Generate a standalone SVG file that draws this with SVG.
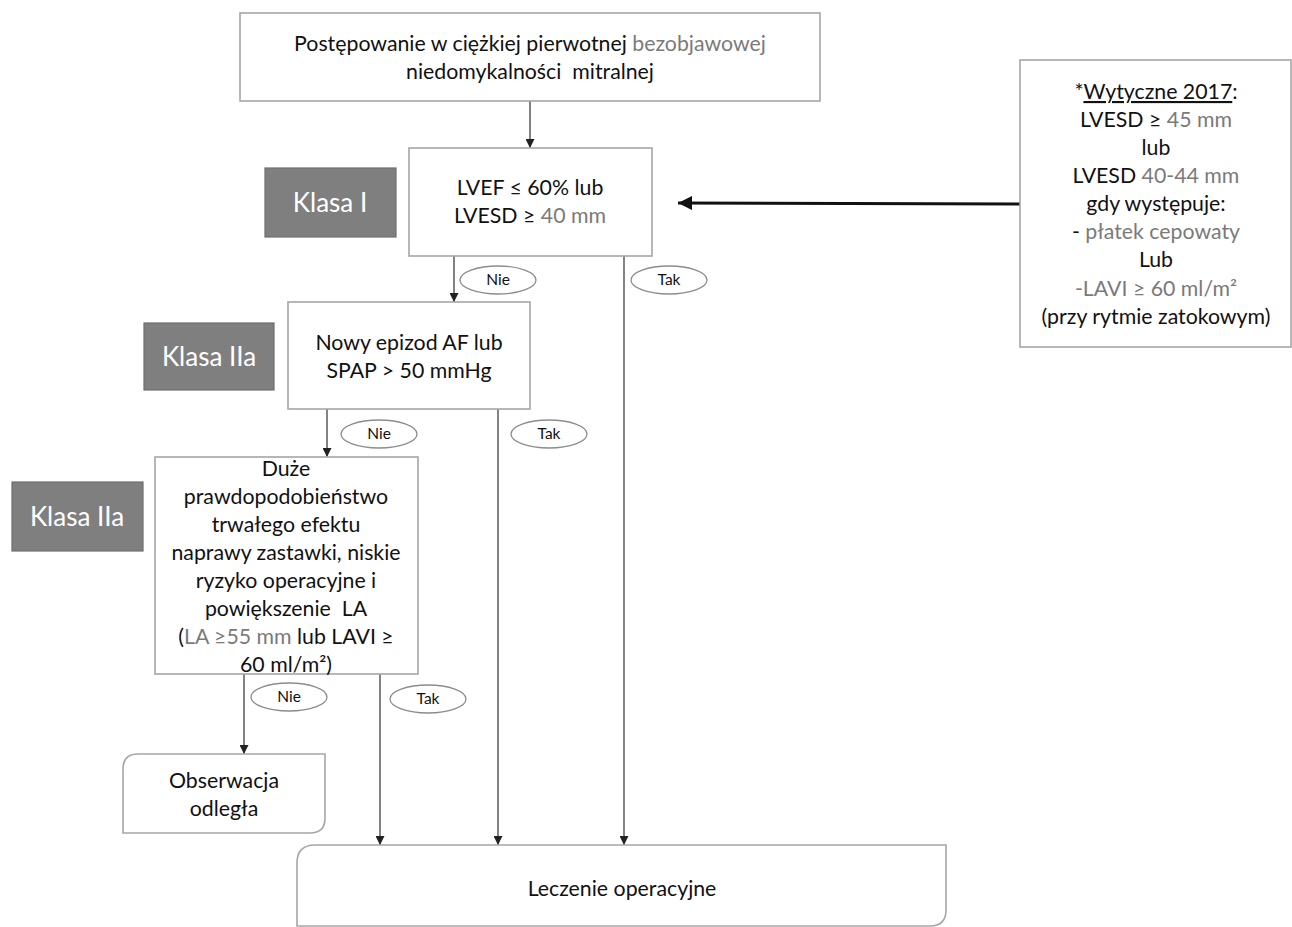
<svg xmlns="http://www.w3.org/2000/svg" width="1292" height="927" viewBox="0 0 1292 927">
<defs>
<style>
.box{fill:#fff;stroke:#a6a6a6;stroke-width:1.6}
.klasa{fill:#7f7f7f;stroke:#6e6e6e;stroke-width:1.2}
.kt{font-family:Lato,"Liberation Sans",sans-serif;font-size:26px;fill:#fff;text-anchor:middle}
.t{font-family:Lato,"Liberation Sans",sans-serif;font-size:21.3px;fill:#111;text-anchor:middle}
.g{fill:#7a7a7a}
.ov{fill:#fff;stroke:#8c8c8c;stroke-width:1.3}
.ot{font-family:Lato,"Liberation Sans",sans-serif;font-size:15.5px;fill:#111;text-anchor:middle}
.ln{stroke:#404040;stroke-width:1.3;fill:none}
</style>
<marker id="a" viewBox="0 0 10 10" refX="10" refY="5" markerWidth="10" markerHeight="9" markerUnits="userSpaceOnUse" orient="auto">
<path d="M0,0 L10,5 L0,10 Z" fill="#222"/>
</marker>
<marker id="b" viewBox="0 0 10 10" refX="10" refY="5" markerWidth="20" markerHeight="14" markerUnits="userSpaceOnUse" orient="auto">
<path d="M0,0 L10,5 L0,10 Z" fill="#111"/>
</marker>
</defs>

<g id="connectors">
<line class="ln" x1="530" y1="101" x2="530" y2="148" marker-end="url(#a)"/>
<line class="ln" x1="454" y1="256" x2="454" y2="302" marker-end="url(#a)"/>
<line class="ln" x1="624" y1="256" x2="624" y2="845" marker-end="url(#a)"/>
<line class="ln" x1="327" y1="409" x2="327" y2="457" marker-end="url(#a)"/>
<line class="ln" x1="498" y1="409" x2="498" y2="845" marker-end="url(#a)"/>
<line class="ln" x1="244" y1="674" x2="244" y2="754" marker-end="url(#a)"/>
<line class="ln" x1="380" y1="674" x2="380" y2="845" marker-end="url(#a)"/>
<line x1="1020" y1="204" x2="678" y2="203" stroke="#111" stroke-width="3.2" marker-end="url(#b)"/>
</g>

<g id="top">
<rect class="box" x="240" y="13" width="580" height="88"/>
<text class="t" x="530" y="51">Postępowanie w ciężkiej pierwotnej <tspan class="g">bezobjawowej</tspan></text>
<text class="t" x="530" y="79" xml:space="preserve">niedomykalności  mitralnej</text>
</g>

<g id="klasa1">
<rect class="klasa" x="265" y="168" width="131" height="69"/>
<text class="kt" x="330" y="212">Klasa I</text>
</g>

<g id="lvef">
<rect class="box" x="409" y="148" width="243" height="108"/>
<text class="t" x="530" y="195">LVEF ≤ 60% lub</text>
<text class="t" x="530" y="223">LVESD ≥ <tspan class="g">40 mm</tspan></text>
</g>

<g id="wytyczne">
<rect class="box" x="1020" y="60" width="271" height="287"/>
<text class="t" x="1156" y="99">*<tspan text-decoration="underline">Wytyczne 2017</tspan>:</text>
<text class="t" x="1156" y="127">LVESD ≥ <tspan class="g">45 mm</tspan></text>
<text class="t" x="1156" y="155">lub</text>
<text class="t" x="1156" y="183">LVESD <tspan class="g">40-44 mm</tspan></text>
<text class="t" x="1156" y="211">gdy występuje:</text>
<text class="t" x="1156" y="239">- <tspan class="g">płatek cepowaty</tspan></text>
<text class="t" x="1156" y="267">Lub</text>
<text class="t" x="1156" y="296"><tspan class="g">-LAVI ≥ 60 ml/m²</tspan></text>
<text class="t" x="1156" y="324">(przy rytmie zatokowym)</text>
</g>

<g id="nie1"><ellipse class="ov" cx="498" cy="280" rx="38" ry="14"/><text class="ot" x="498" y="285">Nie</text></g>
<g id="tak1"><ellipse class="ov" cx="669" cy="280" rx="38" ry="14"/><text class="ot" x="669" y="285">Tak</text></g>

<g id="klasa2a">
<rect class="klasa" x="144" y="323" width="130" height="67"/>
<text class="kt" x="209" y="366">Klasa IIa</text>
</g>

<g id="nowy">
<rect class="box" x="288" y="302" width="242" height="107"/>
<text class="t" x="409" y="350">Nowy epizod AF lub</text>
<text class="t" x="409" y="378">SPAP &gt; 50 mmHg</text>
</g>

<g id="nie2"><ellipse class="ov" cx="379" cy="434" rx="38" ry="14"/><text class="ot" x="379" y="439">Nie</text></g>
<g id="tak2"><ellipse class="ov" cx="549" cy="434" rx="38" ry="14"/><text class="ot" x="549" y="439">Tak</text></g>

<g id="klasa2b">
<rect class="klasa" x="12" y="482" width="131" height="69"/>
<text class="kt" x="77" y="526">Klasa IIa</text>
</g>

<g id="duze">
<rect class="box" x="155" y="457" width="263" height="217"/>
<text class="t" x="286" y="476">Duże</text>
<text class="t" x="286" y="504">prawdopodobieństwo</text>
<text class="t" x="286" y="532">trwałego efektu</text>
<text class="t" x="286" y="560">naprawy zastawki, niskie</text>
<text class="t" x="286" y="588">ryzyko operacyjne i</text>
<text class="t" x="286" y="616" xml:space="preserve">powiększenie  LA</text>
<text class="t" x="286" y="644">(<tspan class="g">LA ≥55 mm</tspan> lub LAVI ≥</text>
<text class="t" x="286" y="672">60 ml/m²)</text>
</g>

<g id="nie3"><ellipse class="ov" cx="289" cy="697" rx="38" ry="14"/><text class="ot" x="289" y="702">Nie</text></g>
<g id="tak3"><ellipse class="ov" cx="428" cy="699" rx="38" ry="14"/><text class="ot" x="428" y="704">Tak</text></g>

<g id="obserwacja">
<path class="box" d="M138,754 H325 V818 Q325,833 310,833 H123 V769 Q123,754 138,754 Z"/>
<text class="t" x="224" y="788">Obserwacja</text>
<text class="t" x="224" y="816">odległa</text>
</g>

<g id="leczenie">
<path class="box" d="M315,845 H946 V910 Q946,926 930,926 H297 V863 Q297,845 315,845 Z"/>
<text class="t" x="622" y="896">Leczenie operacyjne</text>
</g>
</svg>
